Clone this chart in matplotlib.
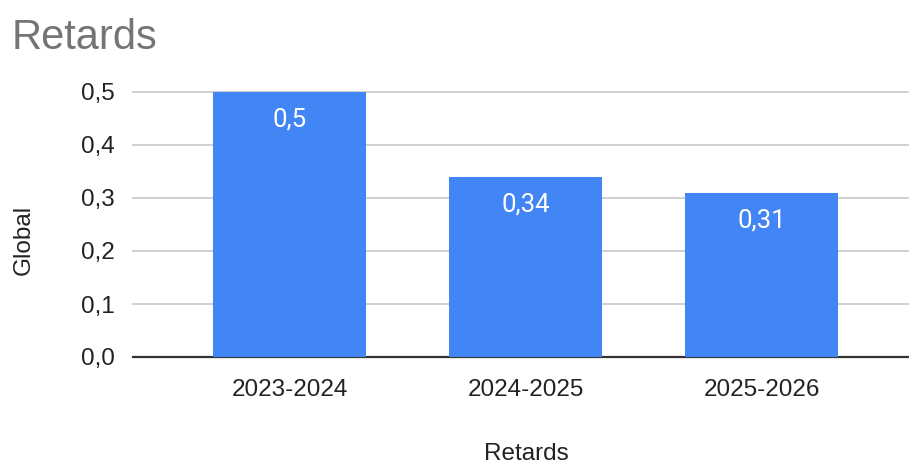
import matplotlib
matplotlib.use("Agg")
import matplotlib.pyplot as plt

# data
seasons = ["2023-2024", "2024-2025", "2025-2026"]
retards = [0.5, 0.34, 0.31]
yticks = [0.0, 0.1, 0.2, 0.3, 0.4, 0.5]


def fmt(v: float, nd: int = 1) -> str:
    """french decimal comma"""
    return f"{v:.{nd}f}".replace(".", ",")


plt.rcParams["font.family"] = ["Liberation Sans", "DejaVu Sans"]

fig = plt.figure(figsize=(9.09, 4.65), dpi=100)
ax = fig.add_axes([133 / 909, 1 - 357 / 465, (908 - 133) / 909, (357 - 92) / 465])

x = list(range(len(seasons)))
ax.bar(x, retards, width=0.648, color="#4285f4", zorder=3)

# value labels inside the bars
for xi, v in zip(x, retards):
    label = fmt(v, 1) if v * 10 == round(v * 10) else fmt(v, 2)
    ax.annotate(label, (xi, v), xytext=(0, -20), textcoords="offset points",
                ha="center", va="center", color="white", fontsize=18.5,
                family=["Roboto", "DejaVu Sans"], zorder=4)

ax.set_xlim(-0.665, 2.619)
ax.set_ylim(0, 0.5)
ax.set_yticks(yticks)
ax.set_yticklabels([fmt(t) for t in yticks])
ax.set_xticks(x)
ax.set_xticklabels(seasons)
ax.tick_params(axis="both", length=0, labelsize=17.5, colors="#222222")
ax.tick_params(axis="y", pad=13)
ax.tick_params(axis="x", pad=16)

for s in ["top", "right", "left"]:
    ax.spines[s].set_visible(False)
ax.spines["bottom"].set_color("#333333")
ax.spines["bottom"].set_linewidth(1.6)
ax.spines["bottom"].set_zorder(2)

ax.grid(axis="y", color="#cccccc", linewidth=1.3, zorder=0)
for gl in ax.get_ygridlines():
    gl.set_clip_on(False)

fig.text(12 / 909, 1 - 49 / 465, "Retards", fontsize=30, color="#757575", va="baseline")
fig.text(24 / 909, 1 - 240 / 465, "Global", fontsize=17.5, color="#222222",
         rotation=90, ha="center", va="center")
fig.text(526 / 909, 1 - 460 / 465, "Retards", fontsize=17.5, color="#222222",
         ha="center", va="baseline")

fig.savefig("out.png", dpi=100)
